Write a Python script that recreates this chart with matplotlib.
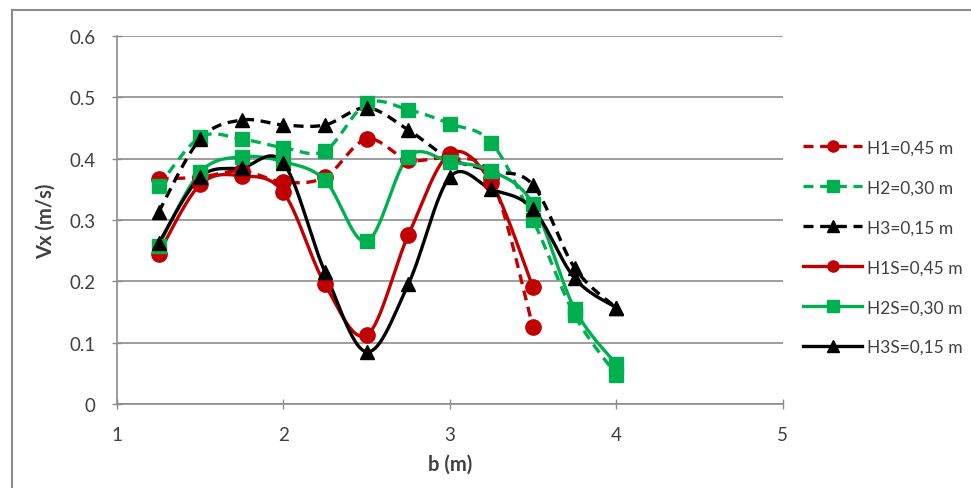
import numpy as np
import matplotlib.pyplot as plt
from matplotlib.lines import Line2D

# Data
b = [1.25, 1.5, 1.75, 2.0, 2.25, 2.5, 2.75, 3.0, 3.25, 3.5, 3.75, 4.0]

h1 = [0.367, 0.37, 0.38, 0.362, 0.37, 0.432, 0.398, 0.40, 0.368, 0.125]
h2 = [0.355, 0.435, 0.432, 0.418, 0.413, 0.49, 0.48, 0.457, 0.426, 0.30, 0.145, 0.048]
h3 = [0.313, 0.432, 0.463, 0.455, 0.455, 0.483, 0.447, 0.40, 0.38, 0.357, 0.222, 0.157]
h1s = [0.245, 0.358, 0.372, 0.345, 0.195, 0.112, 0.275, 0.408, 0.36, 0.19]
h2s = [0.258, 0.378, 0.403, 0.395, 0.365, 0.265, 0.403, 0.395, 0.38, 0.326, 0.155, 0.065]
h3s = [0.262, 0.37, 0.385, 0.393, 0.215, 0.085, 0.195, 0.37, 0.35, 0.318, 0.205, 0.157]

labels = ["H1=0,45 m", "H2=0,30 m", "H3=0,15 m", "H1S=0,45 m", "H2S=0,30 m", "H3S=0,15 m"]

RED = "#C00000"
GREEN = "#00B050"
BLACK = "#000000"


# Excel-like smoothed line (Catmull-Rom / Bezier), done in screen-ish units
def smooth(x, y, sx=166.5, sy=613.0, n=30):
    px = np.asarray(x) * sx
    py = np.asarray(y) * sy
    P = np.column_stack([px, py])
    out = []
    for i in range(len(P) - 1):
        p0 = P[i - 1] if i > 0 else P[i]
        p1 = P[i]
        p2 = P[i + 1]
        p3 = P[i + 2] if i + 2 < len(P) else P[i + 1]
        c1 = p1 + (p2 - p0) / 6.0
        c2 = p2 - (p3 - p1) / 6.0
        t = np.linspace(0, 1, n)[:, None]
        seg = ((1 - t) ** 3) * p1 + 3 * ((1 - t) ** 2) * t * c1 + 3 * (1 - t) * t ** 2 * c2 + t ** 3 * p2
        out.append(seg if i == 0 else seg[1:])
    pts = np.vstack(out)
    return pts[:, 0] / sx, pts[:, 1] / sy


plt.rcParams['font.family'] = ['Lato', 'DejaVu Sans']

fig = plt.figure(figsize=(9.71, 4.89), dpi=100)
ax = fig.add_axes([0.1205, 0.1718, 0.6855, 0.7525])

series = [
    (h1, RED, "--", "o", 11),
    (h2, GREEN, "--", "s", 9.5),
    (h3, BLACK, "--", "^", 10.5),
    (h1s, RED, "-", "o", 11),
    (h2s, GREEN, "-", "s", 9.5),
    (h3s, BLACK, "-", "^", 10.5),
]

handles = []
for (vals, col, ls, mk, ms), lab in zip(series, labels):
    xs = b[:len(vals)]
    sx, sy = smooth(xs, vals)
    ax.plot(sx, sy, color=col, linestyle=ls, lw=2.4, dashes=(3, 2) if ls == "--" else (None, None), zorder=3)
    ax.plot(xs, vals, linestyle="none", marker=mk, color=col, markersize=ms, zorder=4)
    if ls == "--":
        h = Line2D([], [], color=col, lw=2.4, linestyle="--", dashes=(3, 2), marker=mk, markersize=8)
    else:
        h = Line2D([], [], color=col, lw=2.4, marker=mk, markersize=8)
    handles.append(h)

ax.set_xlim(1, 5)
ax.set_ylim(0, 0.6)
ax.set_xticks([1, 2, 3, 4, 5])
ax.set_yticks(np.arange(0, 0.61, 0.1))
ax.set_yticklabels(["0", "0.1", "0.2", "0.3", "0.4", "0.5", "0.6"])
ax.yaxis.grid(True, color="#8C8C8C", lw=1.2)
ax.set_axisbelow(True)
for s in ["top", "right"]:
    ax.spines[s].set_visible(False)
for s in ["left", "bottom"]:
    ax.spines[s].set_color("#8C8C8C")
    ax.spines[s].set_linewidth(1.2)
ax.tick_params(axis="both", direction="inout", length=7, color="#8C8C8C", labelsize=13.5,
               labelcolor="#404040", width=1)
ax.tick_params(axis="x", pad=12)
ax.tick_params(axis="y", pad=12)
ax.set_xlabel("b (m)", fontsize=14.5, fontweight="bold", color="#404040", labelpad=8)
ax.set_ylabel("Vx (m/s)", fontsize=14.5, fontweight="bold", color="#404040", labelpad=10)

leg = fig.legend(handles, labels, loc="upper left", bbox_to_anchor=(0.811, 0.745), frameon=False,
                 fontsize=12.5, labelcolor="#404040", handlelength=3.4, labelspacing=1.38,
                 handletextpad=0.3)

# chart border (top and left only visible)
fig.add_artist(Line2D([12 / 971, 12 / 971], [0, 1 - 11 / 489], transform=fig.transFigure, color="#8C8C8C", lw=1.5))
fig.add_artist(Line2D([12 / 971, 1], [1 - 11 / 489, 1 - 11 / 489], transform=fig.transFigure, color="#8C8C8C", lw=1.5))

fig.savefig("out.png", dpi=100)
